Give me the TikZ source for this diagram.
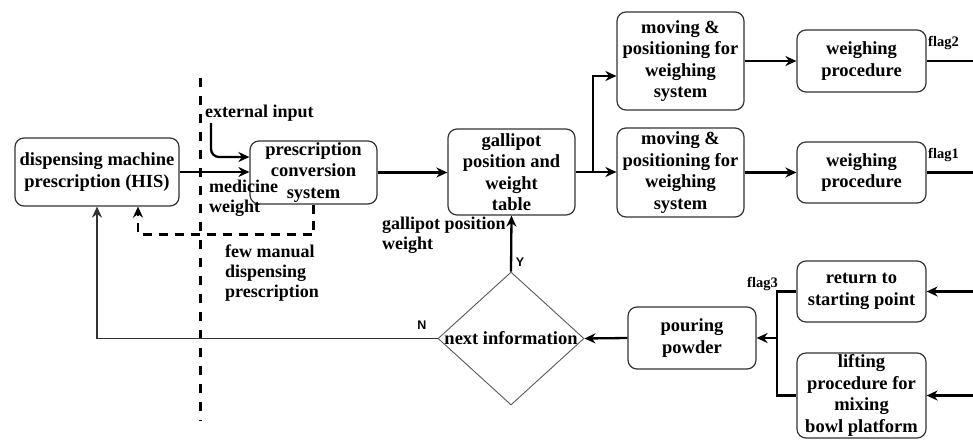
\documentclass[tikz,border=0pt]{standalone}
\usepackage{fontspec}
\setmainfont{Liberation Serif}
\setsansfont{Liberation Sans}
\usetikzlibrary{arrows.meta,shapes.geometric,calc}

\begin{document}
\begin{tikzpicture}[x=1pt,y=-1pt,
  proc/.style={draw=black!80, line width=1.2pt, rounded corners=9pt, align=center,
    inner sep=1pt, font=\bfseries\fontsize{18.5}{21.5}\selectfont},
  decision/.style={draw=black!65, line width=0.9pt, shape=diamond, inner sep=0pt,
    font=\bfseries\fontsize{18.5}{21.5}\selectfont},
  flow/.style={line width=2.3pt, -{Stealth[length=11pt,width=10pt]}},
  link/.style={line width=2.3pt},
  thinflow/.style={draw=black!80, line width=1.7pt, -{Stealth[length=11pt,width=10pt]}},
  fbflow/.style={line width=2.6pt, dash pattern=on 9pt off 7pt, -{Stealth[length=11pt,width=10pt]}},
  note/.style={font=\bfseries\fontsize{18}{20}\selectfont, inner sep=0pt, align=left},
  flagtxt/.style={font=\bfseries\fontsize{14.5}{16}\selectfont, inner sep=0pt},
  yn/.style={font=\sffamily\bfseries\fontsize{12.5}{14}\selectfont, inner sep=0pt}
]
\useasboundingbox (0,0) rectangle (973,439);

% process boxes
\node[proc, minimum width=164pt, minimum height=68pt] (his) at (97,172)
  {dispensing machine\\prescription (HIS)};
\node[proc, minimum width=127pt, minimum height=63pt, inner sep=0pt] (pcs) at (313.5,172.5)
  {prescription\\conversion\\system};
\node[proc, minimum width=127pt, minimum height=86pt] (gal) at (511.5,172)
  {gallipot\\position and\\weight\\table};
\node[proc, minimum width=127pt, minimum height=98pt] (mv2) at (680.5,61)
  {moving \&\\positioning for\\weighing\\system};
\node[proc, minimum width=127pt, minimum height=89pt] (mv1) at (680.5,172.5)
  {moving \&\\positioning for\\weighing\\system};
\node[proc, minimum width=129pt, minimum height=62pt] (wp2) at (861.5,61)
  {weighing\\procedure};
\node[proc, minimum width=129pt, minimum height=61pt] (wp1) at (861.5,172.5)
  {weighing\\procedure};
\node[decision, minimum width=146pt, minimum height=133pt] (dec) at (511,338.5)
  {\makebox[0pt]{next information}};
\node[proc, minimum width=128pt, minimum height=62pt] (pour) at (692,338)
  {pouring\\powder};
\node[proc, minimum width=129pt, minimum height=61pt] (ret) at (861.5,291.5)
  {return to\\starting point};
\node[proc, minimum width=129pt, minimum height=85pt, inner sep=0pt] (lift) at (861.5,395.5)
  {lifting\\procedure for\\mixing\\bowl platform};

% free ends and junctions
\coordinate (ext) at (211,123);
\coordinate (split) at (593,172.5);
\coordinate (out2) at (973,61);
\coordinate (out1) at (973,172.5);
\coordinate (in3) at (973,291.5);
\coordinate (in4) at (973,395.5);
\coordinate (join) at (777,338);
\coordinate (sepTop) at (200,78);
\coordinate (sepBot) at (200,421);

% separator between the hospital system and the machine
\draw[line width=3pt, dash pattern=on 9pt off 9pt] (sepTop) -- (sepBot);

% main forward flow
\draw[flow] (his.east) -- (his.east -| pcs.west);
\draw[flow, rounded corners=8pt] (ext) |- ($(pcs.west)+(0,-15.5)$);
\draw[flow] (pcs.east) -- (pcs.east -| gal.west);
\draw[flow] (gal.east) -- (gal.east -| mv1.west);
\draw[flow] (split) |- ($(mv2.west)+(0,15)$);
\draw[flow] (mv2.east) -- (wp2.west);
\draw[flow] (mv1.east) -- (wp1.west);
\draw[link] (wp2.east) -- (out2);
\draw[link] (wp1.east) -- (out1);

% return branch
\draw[flow] (in3) -- (ret.east);
\draw[flow] (in4) -- (lift.east);
\draw[link] (ret.west) -- (ret.west -| join) -- (lift.west -| join) -- (lift.west);
\draw[flow] (join) -- (pour.east);
\draw[flow] (pour.west) -- (dec.east);
\draw[flow] (dec.north) -- (gal.south);
\draw[thinflow] (dec.west) -| (his.south);

% manual dispensing feedback
\draw[fbflow] (pcs.south) -- ++(0,30) -| ($(his.south)+(41,0)$);

% labels
\node[note, anchor=west] (lext) at (205,113) {external input};
\node[note, anchor=west] (lmed) at (209,198) {medicine\\weight};
\node[note, anchor=west] (lfew) at (225,273) {few manual\\dispensing\\prescription};
\node[note, anchor=west] (lgal) at (382,235) {gallipot position\\weight};
\node[flagtxt, anchor=west] (f2) at (928,43) {flag2};
\node[flagtxt, anchor=west] (f1) at (928,155) {flag1};
\node[flagtxt, anchor=west] (f3) at (747,284) {flag3};
\node[yn] (ly) at (520,262) {Y};
\node[yn] (ln) at (422,325) {N};
\end{tikzpicture}
\end{document}
